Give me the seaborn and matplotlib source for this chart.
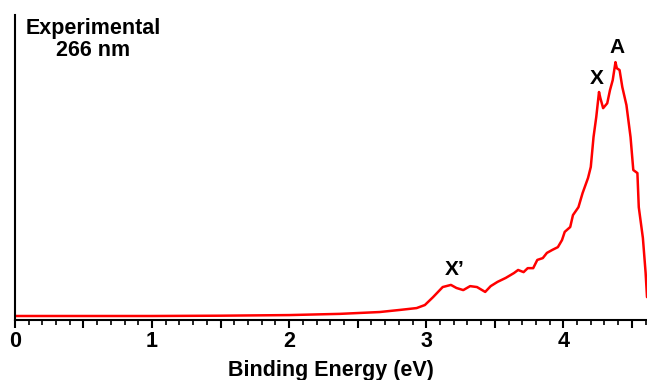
import pandas as pd
import seaborn as sns
import matplotlib.pyplot as plt
from matplotlib.ticker import MultipleLocator, FuncFormatter

energy = [0.0, 0.5, 1.0, 1.5, 2.0, 2.37, 2.66, 2.81, 2.93, 2.99, 3.05, 3.12, 3.18,
          3.22, 3.27, 3.32, 3.37, 3.43, 3.47, 3.52, 3.58, 3.64, 3.67, 3.71, 3.74,
          3.78, 3.81, 3.85, 3.88, 3.92, 3.96, 3.99, 4.01, 4.05, 4.07, 4.11, 4.14,
          4.18, 4.20, 4.22, 4.24, 4.26, 4.27, 4.29, 4.32, 4.34, 4.36, 4.38, 4.39,
          4.41, 4.43, 4.46, 4.49, 4.51, 4.54, 4.55, 4.58, 4.60, 4.61]
intensity = [0.013, 0.013, 0.013, 0.014, 0.016, 0.020, 0.026, 0.033, 0.039, 0.049,
             0.075, 0.108, 0.115, 0.105, 0.098, 0.111, 0.108, 0.092, 0.111, 0.125,
             0.138, 0.154, 0.164, 0.157, 0.170, 0.170, 0.197, 0.203, 0.220, 0.230,
             0.239, 0.262, 0.289, 0.305, 0.344, 0.370, 0.416, 0.466, 0.502, 0.600,
             0.666, 0.748, 0.728, 0.695, 0.711, 0.754, 0.787, 0.846, 0.826, 0.820,
             0.764, 0.705, 0.600, 0.492, 0.482, 0.370, 0.269, 0.154, 0.075]

peak_labels = ["X\u2019", "X", "A"]
peak_x = [3.21, 4.24, 4.39]
peak_y = [0.164, 0.793, 0.895]

df = pd.DataFrame({"Energy": energy, "Intensity": intensity})

sns.set_style("ticks")
plt.rcParams["font.family"] = ["Liberation Sans", "DejaVu Sans"]
plt.rcParams["font.weight"] = "bold"
plt.rcParams["text.color"] = "black"
plt.rcParams["axes.edgecolor"] = "black"
plt.rcParams["xtick.color"] = "black"
plt.rcParams["axes.labelcolor"] = "black"

fig = plt.figure(figsize=(6.47, 3.80), dpi=100)
ax = fig.add_axes([0.023, 0.158, 0.977, 0.802])

sns.lineplot(data=df, x="Energy", y="Intensity", color="#ff0000", linewidth=1.8, ax=ax)

for lab, px, py in zip(peak_labels, peak_x, peak_y):
    ax.text(px, py, lab, ha="center", va="center", fontsize=15, fontweight="bold")

ax.text(0.57, 0.99, "Experimental\n266 nm", ha="center", va="top", fontsize=15.5,
        fontweight="bold", linespacing=1.05)

ax.set_xlim(0, 4.61)
ax.set_ylim(0, 1.0)
ax.set_yticks([])
ax.set_ylabel("")
ax.set_xlabel("Binding Energy (eV)", fontsize=15.5, fontweight="bold", labelpad=6)
ax.xaxis.set_major_locator(MultipleLocator(0.5))
ax.xaxis.set_minor_locator(MultipleLocator(0.1))
ax.xaxis.set_major_formatter(FuncFormatter(lambda v, p: f"{v:.0f}" if abs(v - round(v)) < 1e-6 else ""))
ax.tick_params(axis="x", which="major", length=6, width=1.5, labelsize=15.5, pad=2)
ax.tick_params(axis="x", which="minor", length=3.5, width=1.2)
for lbl in ax.get_xticklabels():
    lbl.set_fontweight("bold")

sns.despine(ax=ax)
ax.spines["left"].set_linewidth(1.5)
ax.spines["bottom"].set_linewidth(1.5)

plt.savefig("out.png", dpi=100)
plt.close()
